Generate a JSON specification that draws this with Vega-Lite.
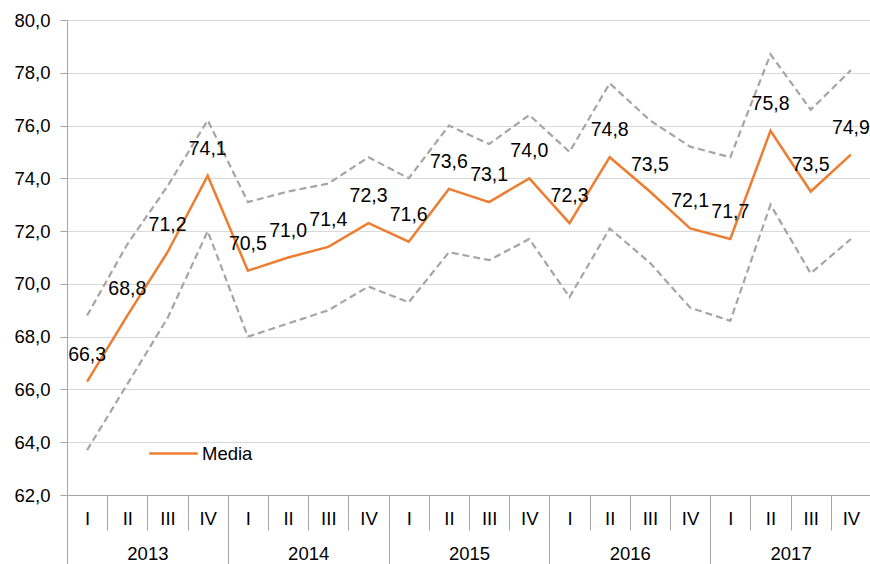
{
  "$schema": "https://vega.github.io/schema/vega-lite/v6.json",
  "width": 804,
  "height": 475,
  "autosize": "none",
  "padding": {"left": 67, "top": 20, "right": 0, "bottom": 69},
  "config": {
    "locale": {"number": {"decimal": ",", "thousands": ".", "grouping": [3], "currency": ["", " €"]}},
    "font": "Liberation Sans",
    "view": {"stroke": null},
    "axis": {"labelFont": "Liberation Sans", "labelFontSize": 18.5, "labelColor": "#000000", "title": null},
    "legend": {"padding": 0}
  },
  "data": {"values": [
    {"q": "2013 I", "year": "2013", "media": 66.3, "upper": 68.8, "lower": 63.7},
    {"q": "2013 II", "year": "2013", "media": 68.8, "upper": 71.5, "lower": 66.2},
    {"q": "2013 III", "year": "2013", "media": 71.2, "upper": 73.7, "lower": 68.7},
    {"q": "2013 IV", "year": "2013", "media": 74.1, "upper": 76.2, "lower": 72.0},
    {"q": "2014 I", "year": "2014", "media": 70.5, "upper": 73.1, "lower": 68.0},
    {"q": "2014 II", "year": "2014", "media": 71.0, "upper": 73.5, "lower": 68.5},
    {"q": "2014 III", "year": "2014", "media": 71.4, "upper": 73.8, "lower": 69.0},
    {"q": "2014 IV", "year": "2014", "media": 72.3, "upper": 74.8, "lower": 69.9},
    {"q": "2015 I", "year": "2015", "media": 71.6, "upper": 74.0, "lower": 69.3},
    {"q": "2015 II", "year": "2015", "media": 73.6, "upper": 76.0, "lower": 71.2},
    {"q": "2015 III", "year": "2015", "media": 73.1, "upper": 75.3, "lower": 70.9},
    {"q": "2015 IV", "year": "2015", "media": 74.0, "upper": 76.4, "lower": 71.7},
    {"q": "2016 I", "year": "2016", "media": 72.3, "upper": 75.0, "lower": 69.5},
    {"q": "2016 II", "year": "2016", "media": 74.8, "upper": 77.6, "lower": 72.1},
    {"q": "2016 III", "year": "2016", "media": 73.5, "upper": 76.2, "lower": 70.8},
    {"q": "2016 IV", "year": "2016", "media": 72.1, "upper": 75.2, "lower": 69.1},
    {"q": "2017 I", "year": "2017", "media": 71.7, "upper": 74.8, "lower": 68.6},
    {"q": "2017 II", "year": "2017", "media": 75.8, "upper": 78.7, "lower": 73.0},
    {"q": "2017 III", "year": "2017", "media": 73.5, "upper": 76.6, "lower": 70.4},
    {"q": "2017 IV", "year": "2017", "media": 74.9, "upper": 78.1, "lower": 71.7}
  ]},
  "resolve": {"scale": {"x": "independent"}, "axis": {"x": "independent"}},
  "layer": [
    {
      "layer": [
        {
          "mark": {"type": "line", "stroke": "#A5A5A5", "strokeDash": [7, 4], "strokeWidth": 2.2},
          "encoding": {
            "x": {
              "field": "q", "type": "ordinal", "sort": null, "bandPosition": 0.5,
              "scale": {"type": "band", "paddingInner": 0, "paddingOuter": 0},
              "axis": {
                "orient": "bottom", "labelAngle": 0,
                "labelExpr": "split(datum.value, ' ')[1]",
                "tickBand": "extent", "tickSize": 35, "tickColor": "#A6A6A6",
                "domainColor": "#A6A6A6", "labelPadding": -21, "grid": false
              }
            },
            "y": {
              "field": "upper", "type": "quantitative",
              "scale": {"domain": [62, 80], "nice": false, "zero": false},
              "axis": {
                "values": [62, 64, 66, 68, 70, 72, 74, 76, 78, 80],
                "format": ".1f", "tickSize": 7, "labelPadding": 10,
                "domainColor": "#A6A6A6", "tickColor": "#A6A6A6",
                "gridColor": "#D9D9D9", "grid": true
              }
            }
          }
        },
        {
          "mark": {"type": "line", "stroke": "#A5A5A5", "strokeDash": [7, 4], "strokeWidth": 2.2},
          "encoding": {
            "x": {"field": "q", "type": "ordinal", "sort": null, "bandPosition": 0.5},
            "y": {"field": "lower", "type": "quantitative"}
          }
        },
        {
          "mark": {"type": "line", "strokeWidth": 2.5},
          "encoding": {
            "x": {"field": "q", "type": "ordinal", "sort": null, "bandPosition": 0.5},
            "y": {"field": "media", "type": "quantitative"},
            "color": {
              "datum": "Media", "type": "nominal",
              "scale": {"range": ["#ED7D31"]},
              "legend": {
                "orient": "none", "legendX": 81, "legendY": 408, "title": null,
                "symbolType": "stroke", "symbolStrokeWidth": 2.5, "symbolSize": 2350,
                "labelFontSize": 18.5, "labelColor": "#000000", "labelFont": "Liberation Sans", "labelOffset": 3
              }
            }
          }
        },
        {
          "mark": {"type": "text", "dy": -27, "fontSize": 19.5, "color": "#000000", "font": "Liberation Sans"},
          "encoding": {
            "x": {"field": "q", "type": "ordinal", "sort": null, "bandPosition": 0.5},
            "y": {"field": "media", "type": "quantitative"},
            "text": {"field": "media", "type": "quantitative", "format": ".1f"}
          }
        }
      ]
    },
    {
      "mark": {"type": "point", "opacity": 0},
      "encoding": {
        "x": {
          "field": "year", "type": "ordinal", "sort": null,
          "scale": {"type": "band", "paddingInner": 0, "paddingOuter": 0},
          "axis": {
            "orient": "bottom", "labelAngle": 0, "domain": false,
            "tickBand": "extent", "tickSize": 70, "tickColor": "#A6A6A6",
            "labelPadding": -21, "grid": false
          }
        },
        "y": {"field": "media", "type": "quantitative"}
      }
    }
  ]
}
